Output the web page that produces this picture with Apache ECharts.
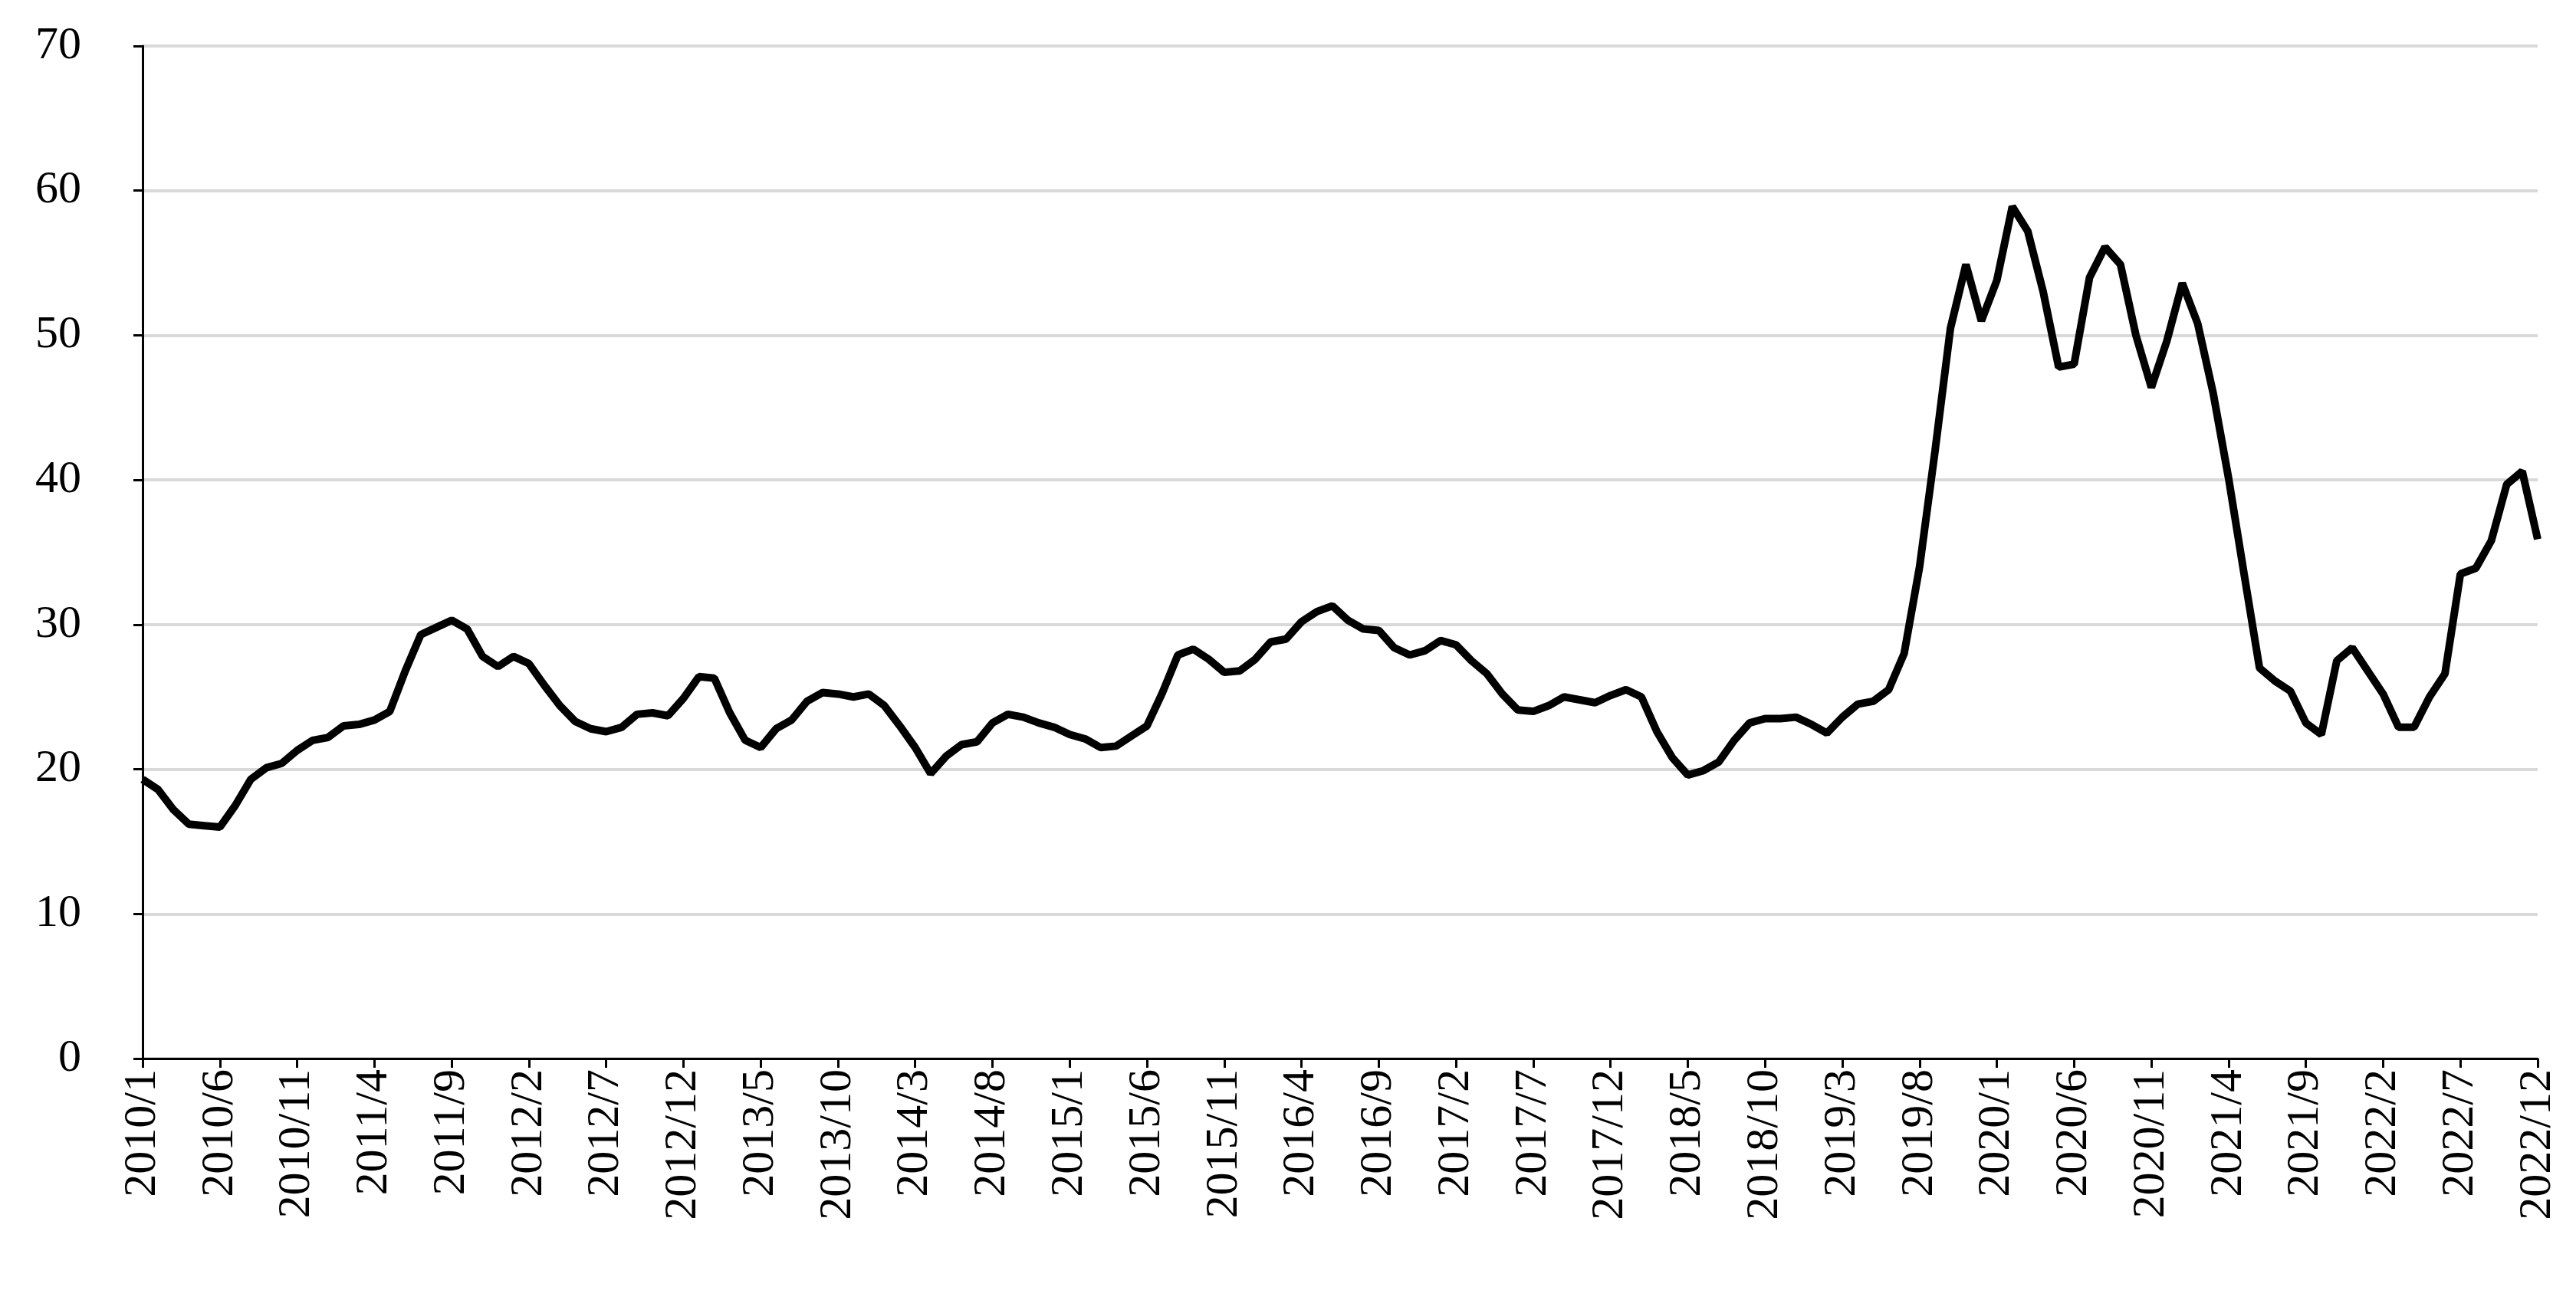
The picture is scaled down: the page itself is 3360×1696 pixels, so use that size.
<!DOCTYPE html>
<html><head><meta charset="utf-8">
<script src="https://cdn.jsdelivr.net/npm/echarts@6/dist/echarts.min.js"></script>
<style>html,body{margin:0;background:#fff}#c{width:3360px;height:1696px}</style>
</head><body><div id="c"></div>
<script>
var months = [];
for (var y = 2010; y <= 2022; y++) for (var m = 1; m <= 12; m++) months.push(y + '/' + m);

var values = [
  19.3,18.6,17.2,16.2,16.1,16.0,17.5,19.3,20.1,20.4,21.3,22.0,
  22.2,23.0,23.1,23.4,24.0,26.8,29.3,29.8,30.3,29.7,27.8,27.1,
  27.8,27.3,25.8,24.4,23.3,22.8,22.6,22.9,23.8,23.9,23.7,24.9,
  26.4,26.3,23.9,22.0,21.5,22.8,23.4,24.7,25.3,25.2,25.0,25.2,
  24.4,23.0,21.5,19.7,20.9,21.7,21.9,23.2,23.8,23.6,23.2,22.9,
  22.4,22.1,21.5,21.6,22.3,23.0,25.3,27.9,28.3,27.6,26.7,26.8,
  27.6,28.8,29.0,30.2,30.9,31.3,30.3,29.7,29.6,28.4,27.9,28.2,
  28.9,28.6,27.5,26.6,25.2,24.1,24.0,24.4,25.0,24.8,24.6,25.1,
  25.5,25.0,22.6,20.8,19.6,19.9,20.5,22.0,23.2,23.5,23.5,23.6,
  23.1,22.5,23.6,24.5,24.7,25.5,28.0,34.0,42.0,50.5,54.9,51.0,
  53.8,58.9,57.2,53.0,47.8,48.0,54.0,56.1,54.9,50.0,46.4,49.6,
  53.6,50.8,46.0,40.1,33.5,27.0,26.1,25.4,23.2,22.4,27.5,28.4,
  26.8,25.2,22.9,22.9,25.0,26.6,33.5,33.9,35.8,39.7,40.6,35.9
];

var font = '"Liberation Serif", "Times New Roman", serif';
var chart = echarts.init(document.getElementById('c'));
chart.setOption({
  animation: false,
  grid: { left: 186, right: 50, top: 60, bottom: 315 },
  xAxis: {
    type: 'category',
    data: months,
    boundaryGap: false,
    axisLine: { lineStyle: { color: '#000', width: 3 } },
    axisTick: { show: true, interval: 4, length: 12, lineStyle: { color: '#000', width: 3 } },
    axisLabel: {
      interval: 4, rotate: 90, color: '#000', fontFamily: font, fontSize: 60, margin: 14
    }
  },
  yAxis: {
    type: 'value', min: 0, max: 70, interval: 10,
    axisLine: { show: true, lineStyle: { color: '#000', width: 3 } },
    axisTick: { show: true, length: 12, lineStyle: { color: '#000', width: 3 } },
    axisLabel: { color: '#000', fontFamily: font, fontSize: 60, margin: 80 },
    splitLine: { lineStyle: { color: '#d9d9d9', width: 4 } }
  },
  series: [{
    type: 'line', data: values, showSymbol: false,
    lineStyle: { color: '#000', width: 10 }
  }]
});
</script></body></html>
